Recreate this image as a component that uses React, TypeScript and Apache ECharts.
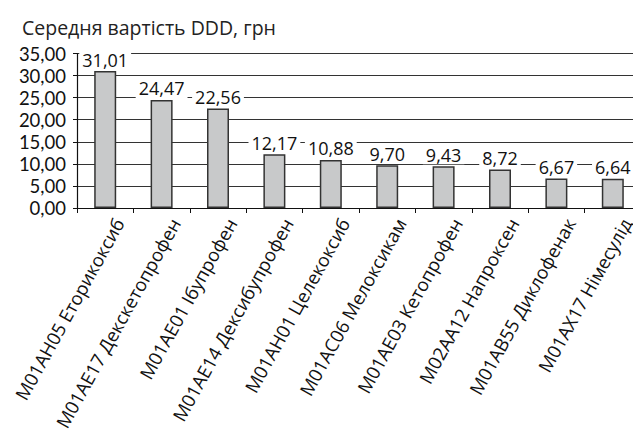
import React, { useEffect, useRef } from "react";
import * as echarts from "echarts";

const categories = [
  "M01AH05 Еторикоксиб",
  "M01AE17 Декскетопрофен",
  "M01AE01 Ібупрофен",
  "M01AE14 Дексибупрофен",
  "M01AH01 Целекоксиб",
  "M01AC06 Мелоксикам",
  "M01AE03 Кетопрофен",
  "M02AA12 Напроксен",
  "M01AB55 Диклофенак",
  "M01AX17 Німесулід",
];
const values = [31.01, 24.47, 22.56, 12.17, 10.88, 9.7, 9.43, 8.72, 6.67, 6.64];
const title = "Середня вартість DDD, грн";

const fmt = (v: number) => v.toFixed(2).replace(".", ",");
const FONT = "Open Sans";

export default function App() {
  const ref = useRef<HTMLDivElement>(null);
  useEffect(() => {
    const chart = echarts.init(ref.current!, null, { renderer: "svg" });
    chart.setOption({
      animation: false,
      backgroundColor: "#fff",
      title: {
        text: title,
        left: 9,
        top: 4,
        textStyle: { fontFamily: FONT, fontSize: 19.5, fontWeight: "normal", color: "#222" },
      },
      grid: {
        left: 69,
        right: 0,
        top: 45.5,
        bottom: 228,
        containLabel: false,
        outerBoundsMode: "none",
      },
      xAxis: {
        type: "category",
        data: categories,
        axisLine: { lineStyle: { color: "#111", width: 1.2 } },
        axisTick: { show: true, length: 5, lineStyle: { color: "#111" } },
        axisLabel: {
          rotate: 61,
          interval: 0,
          margin: 4,
          align: "right",
          verticalAlign: "top",
          padding: [6, 0, 0, 0],
          fontFamily: FONT,
          fontSize: 18.5,
          lineHeight: 19,
          color: "#111",
        },
      },
      yAxis: {
        type: "value",
        min: 0,
        max: 35,
        interval: 5,
        axisLine: { show: true, lineStyle: { color: "#111", width: 1.2 } },
        axisTick: { show: true, length: 4, lineStyle: { color: "#111" } },
        axisLabel: {
          formatter: (v: number) => fmt(v),
          fontFamily: "Lato",
          fontSize: 18.5,
          lineHeight: 19,
          color: "#111",
          margin: 11,
        },
        splitLine: { show: true, lineStyle: { color: "#333", width: 1.2 } },
      },
      series: [
        {
          type: "bar",
          data: values,
          barWidth: "39%",
          itemStyle: { color: "#c8c9ca", borderColor: "#333", borderWidth: 1.5 },
          label: {
            show: true,
            position: "top",
            distance: 2,
            formatter: (p: any) => fmt(p.value),
            fontFamily: FONT,
            fontSize: 18,
            lineHeight: 19,
            color: "#111",
            backgroundColor: "#fff",
            padding: [0, 3, 0, 3],
          },
        },
      ],
    });
    return () => chart.dispose();
  }, []);
  return <div ref={ref} style={{ width: 633, height: 428 }} />;
}
